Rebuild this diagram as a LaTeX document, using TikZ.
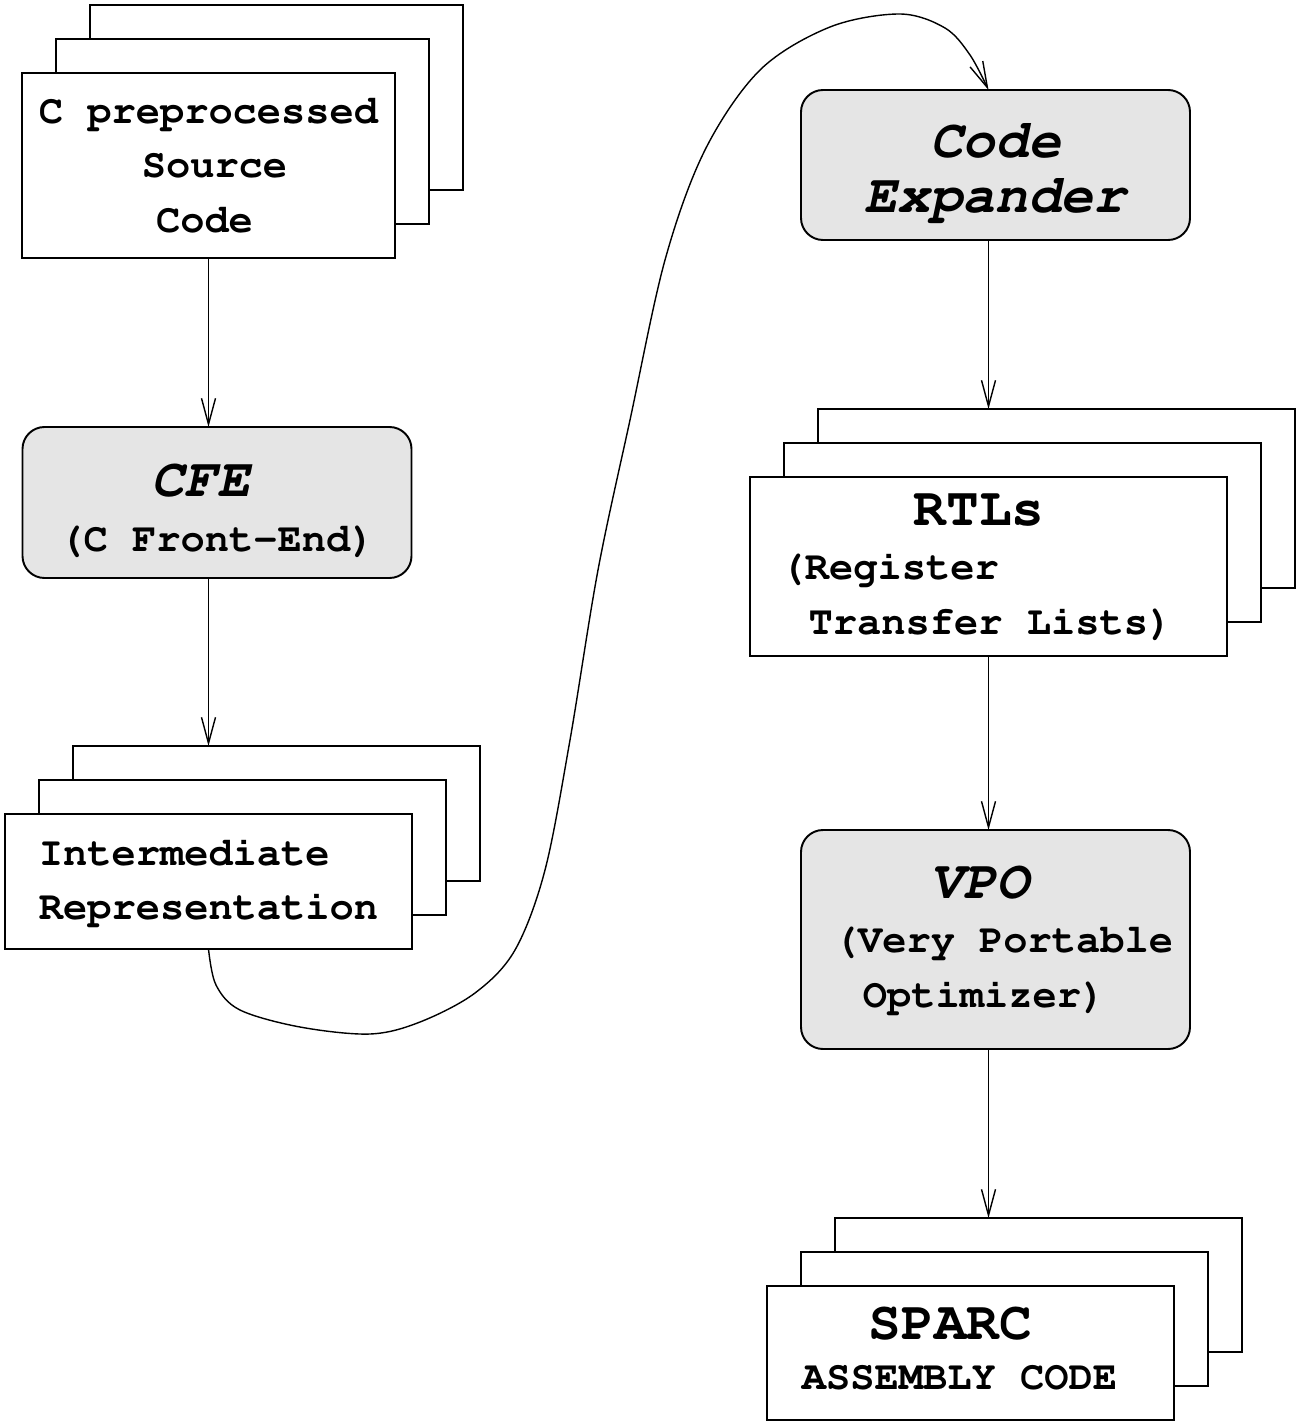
\documentclass[tikz,border=0pt]{standalone}
\usepackage[T1]{fontenc}
\usepackage{courier}
\usetikzlibrary{arrows.meta,backgrounds}
\newlength\px
\setlength\px{0.02cm}
\newcommand\smalltt{\fontsize{23}{31}\selectfont\ttfamily\bfseries}
\newcommand\bigtt{\fontsize{31}{31}\selectfont}
\newcommand\bigit{\fontsize{31}{31}\selectfont\slshape}
\newcommand\lift{\rule{0pt}{27pt}}
\tikzset{page/.style={draw,fill=white,line width=1.1pt,inner sep=0pt,outer sep=0pt,font=\smalltt},
  sheet/.style={draw,fill=white,line width=1.1pt},
  stage/.style={draw,fill=black!10,rounded corners=0.44cm,line width=1.1pt,inner sep=0pt,outer sep=0pt,font=\smalltt},
  flow/.style={-{Straight Barb[length=0.52cm,width=0.28cm]},line width=0.8pt}}
% two sheets behind a page node
\newcommand\pagestack[1]{%
  \draw[sheet] ([shift={(68,-68)}]#1.south west) rectangle ([shift={(68,-68)}]#1.north east);
  \draw[sheet] ([shift={(34,-34)}]#1.south west) rectangle ([shift={(34,-34)}]#1.north east);}

\begin{document}
\begin{tikzpicture}[x=\px,y=-\px]
\useasboundingbox (0,0) rectangle (1298,1422);

% left column
\node[page,minimum width=373\px,minimum height=185\px,align=center] (src) at (208.5,165.5)
  {C preprocessed\\\rule{12\px}{0pt}Source\\Code\rule{8\px}{0pt}};
\node[stage,minimum width=389\px,minimum height=151\px,align=center] (cfe) at (217,502.5)
  {\lift{\bigit CFE}\rule{32\px}{0pt}\\(C Front-End)};
\node[page,minimum width=407\px,minimum height=135\px,align=left] (ir) at (208.5,881.5)
  {Intermediate\\Representation};

% right column
\node[stage,minimum width=389\px,minimum height=150\px,align=center] (ce) at (995.5,165)
  {\lift{\bigit Code}\\{\bigit Expander}};
\node[page,minimum width=477\px,minimum height=179\px,align=left] (rtl) at (988.5,566.5)
  {\hspace*{129\px}{\bigtt RTLs}\\\hspace*{-4\px}(Register\\\hspace*{24\px}Transfer Lists)\rule{20\px}{0pt}};
\node[stage,minimum width=389\px,minimum height=219\px,align=left] (vpo) at (995.5,939.5)
  {\hspace*{113\px}{\bigit VPO}\\\hspace*{16\px}(Very Portable\\\hspace*{45\px}Optimizer)};
\node[page,minimum width=407\px,minimum height=134\px,align=left] (sparc) at (970.5,1353)
  {\hspace*{67\px}{\bigtt SPARC}\\[-4\px]ASSEMBLY CODE\rule{22\px}{0pt}\rule[-10\px]{0pt}{1pt}};

\begin{pgfonlayer}{background}
  \pagestack{src}
  \pagestack{ir}
  \pagestack{rtl}
  \pagestack{sparc}
\end{pgfonlayer}
\coordinate (ir top) at ([shift={(0,-68)}]ir.north);
\coordinate (rtl top) at ([shift={(0,-68)}]rtl.north);
\coordinate (sparc top) at ([shift={(0,-68)}]sparc.north);
\coordinate (ce in) at (rtl |- ce.north);

\draw[flow] (src.south) -- (src |- cfe.north);
\draw[flow] (ir |- cfe.south) -- (ir top);
\draw[flow] (rtl |- ce.south) -- (rtl top);
\draw[flow] (rtl.south) -- (rtl |- vpo.north);
\draw[flow] (rtl |- vpo.south) -- (rtl |- sparc top);

% long way round from the IR to the expander
\draw[flow] plot[smooth,tension=0.55] coordinates {(ir.south) (216,985) (240,1010) (300,1027)
  (370,1034) (420,1022) (475,993) (515,950) (545,870) (570,740) (598,570) (630,420) (665,260)
  (705,150) (760,70) (830,27) (900,14) (945,28) (970,55) (ce in)};
\end{tikzpicture}
\end{document}
